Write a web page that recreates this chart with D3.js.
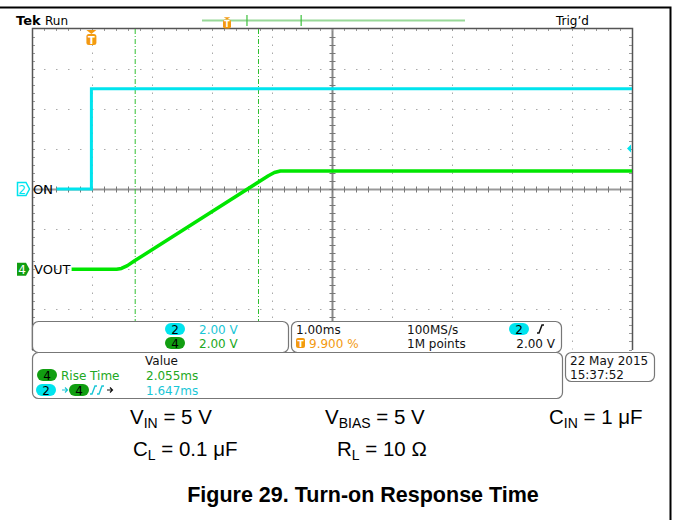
<!DOCTYPE html>
<html>
<head>
<meta charset="utf-8">
<script src="https://cdn.jsdelivr.net/npm/d3@7"></script>
<style>
	body { margin: 0; background: #fff; }
	svg { display: block; }
	text { font-family: "DejaVu Sans", sans-serif; }
	.cap { font-family: "Liberation Sans", Arial, sans-serif; }
</style>
</head>
<body>
<svg></svg>
<script>
// time in ms, volts
var ch2Time = [-0.58, 0, 0, 9.01];
var ch2Volt = [0, 0, 5.0, 5.0];
var ch4Time = [-0.33, 0.42, 0.5, 0.6, 0.72, 2.95, 3.05, 3.15, 9.01];
var ch4Volt = [0, 0, 0.04, 0.18, 0.42, 4.66, 4.82, 4.9, 4.9];
var cursorTimes = [0.73, 2.785];
var voltsPerDiv = 2;
var ch2OffsetDiv = 0;
var ch4OffsetDiv = -2;
var timeDomain = [-0.99, 9.01];   // 1.00 ms/div, trigger at 9.9 %
var divDomain = [-4, 4];

var chScaleRows = [['2', '2.00 V'], ['4', '2.00 V']];
var measureRows = [['Rise Time', '2.055ms'], ['', '1.647ms']];
var dateLines = ['22 May 2015', '15:37:52'];
var condRow1 = [['V', 'IN', ' = 5 V'], ['V', 'BIAS', ' = 5 V'], ['C', 'IN', ' = 1 μF']];
var condRow2 = [['C', 'L', ' = 0.1 μF'], ['R', 'L', ' = 10 Ω']];
var figTitle = 'Figure 29. Turn-on Response Time';

var chart = (function(window, d3) {

	var W = 674, H = 520;
	var CYAN = '#00e4ee', GREEN = '#00e600', PILLG = '#119e11', TXTG = '#22a822',
		TXTC = '#19c6d6', ORANGE = '#f39a10';

	var svg = d3.select('svg').attr('width', W).attr('height', H);

	var x = d3.scaleLinear().domain(timeDomain).range([32, 632]);
	var y = d3.scaleLinear().domain(divDomain).range([349.5, 28.5]);

	// outer frame
	svg.append('path').attr('d', 'M0,7.5H670.5V520').attr('fill', 'none')
		.attr('stroke', '#000').attr('stroke-width', 2);

	// graticule
	var grid = svg.append('g');
	var xt = d3.range(timeDomain[0], timeDomain[1] + 0.001, 1);
	var yt = d3.range(divDomain[0], divDomain[1] + 0.001, 1);

	grid.selectAll('line.v').data(xt.slice(1, -1)).enter().append('line')
		.attr('x1', function(d) { return Math.round(x(d)) + 0.5; })
		.attr('x2', function(d) { return Math.round(x(d)) + 0.5; })
		.attr('y1', y(4)).attr('y2', y(-4))
		.attr('stroke', '#aaa').attr('stroke-dasharray', '1.5,6.5');
	grid.selectAll('line.h').data(yt.slice(1, -1)).enter().append('line')
		.attr('y1', function(d) { return Math.round(y(d)) + 0.5; })
		.attr('y2', function(d) { return Math.round(y(d)) + 0.5; })
		.attr('x1', x.range()[0]).attr('x2', x.range()[1])
		.attr('stroke', '#aaa').attr('stroke-dasharray', '1.5,10.5');

	// center axes with minor ticks
	var cx = Math.round(x(4.01)) + 0.5, cy = Math.round(y(0)) + 0.5;
	grid.append('line').attr('x1', 32).attr('x2', 632).attr('y1', cy).attr('y2', cy)
		.attr('stroke', '#999').attr('stroke-width', 2);
	grid.append('line').attr('x1', cx).attr('x2', cx).attr('y1', 28).attr('y2', 350)
		.attr('stroke', '#888').attr('stroke-width', 2);
	var minorX = d3.range(timeDomain[0], timeDomain[1], 0.2);
	var minorY = d3.range(divDomain[0], divDomain[1], 0.2);
	grid.selectAll('line.mx').data(minorX).enter().append('line')
		.attr('x1', function(d) { return Math.round(x(d)) + 0.5; })
		.attr('x2', function(d) { return Math.round(x(d)) + 0.5; })
		.attr('y1', cy - 3).attr('y2', cy + 3).attr('stroke', '#777');
	grid.selectAll('line.my').data(minorY).enter().append('line')
		.attr('y1', function(d) { return Math.round(y(d)) + 0.5; })
		.attr('y2', function(d) { return Math.round(y(d)) + 0.5; })
		.attr('x1', cx - 3).attr('x2', cx + 3).attr('stroke', '#777');
	// border ticks
	grid.selectAll('line.tt').data(minorX).enter().append('line')
		.attr('x1', function(d) { return Math.round(x(d)) + 0.5; })
		.attr('x2', function(d) { return Math.round(x(d)) + 0.5; })
		.attr('y1', 28).attr('y2', 31).attr('stroke', '#999');
	grid.selectAll('line.lt').data(minorY).enter().append('line')
		.attr('y1', function(d) { return Math.round(y(d)) + 0.5; })
		.attr('y2', function(d) { return Math.round(y(d)) + 0.5; })
		.attr('x1', 32).attr('x2', 35).attr('stroke', '#999');
	grid.selectAll('line.rt').data(minorY).enter().append('line')
		.attr('y1', function(d) { return Math.round(y(d)) + 0.5; })
		.attr('y2', function(d) { return Math.round(y(d)) + 0.5; })
		.attr('x1', 629).attr('x2', 632).attr('stroke', '#999');
	grid.append('path').attr('d', 'M32.5,350V28.5H632.5V350').attr('fill', 'none')
		.attr('stroke', '#555').attr('stroke-width', 1.5);

	// cursors
	svg.selectAll('line.cur').data(cursorTimes).enter().append('line')
		.attr('x1', function(d) { return x(d); }).attr('x2', function(d) { return x(d); })
		.attr('y1', 29).attr('y2', 321)
		.attr('stroke', '#2fbf2f').attr('stroke-dasharray', '5,2,1,2');

	// traces
	var line = d3.line().x(function(d) { return x(d[0]); }).y(function(d) { return y(d[1]); });
	var ch2 = ch2Time.map(function(t, i) { return [t, ch2Volt[i] / voltsPerDiv + ch2OffsetDiv]; });
	var ch4 = ch4Time.map(function(t, i) { return [t, ch4Volt[i] / voltsPerDiv + ch4OffsetDiv]; });
	svg.append('path').attr('d', line(ch2)).attr('fill', 'none').attr('stroke', CYAN).attr('stroke-width', 3);
	svg.append('path').attr('d', line(ch4)).attr('fill', 'none').attr('stroke', GREEN)
		.attr('stroke-width', 3.5).attr('stroke-linejoin', 'round');

	// channel markers
	var m2 = svg.append('g').attr('transform', 'translate(17,' + y(ch2OffsetDiv) + ')');
	m2.append('path').attr('d', 'M0.5,-6.5H9L12.5,0L9,6.5H0.5Z').attr('fill', '#fff').attr('stroke', CYAN).attr('stroke-width', 1.5);
	m2.append('text').attr('x', 5).attr('y', 4.5).attr('text-anchor', 'middle').attr('font-size', 12).attr('fill', CYAN).text('2');
	svg.append('text').attr('x', 33).attr('y', y(ch2OffsetDiv) + 5).attr('font-size', 13).text('ON');
	var m4 = svg.append('g').attr('transform', 'translate(17,' + y(ch4OffsetDiv) + ')');
	m4.append('path').attr('d', 'M0,-6.5H9L12.5,0L9,6.5H0Z').attr('fill', PILLG);
	m4.append('text').attr('x', 5).attr('y', 4.5).attr('text-anchor', 'middle').attr('font-size', 12).attr('fill', '#fff').text('4');
	svg.append('text').attr('x', 34).attr('y', y(ch4OffsetDiv) + 5).attr('font-size', 13).text('VOUT');

	// trigger markers
	var trig = function(g, big) {
		g.append('path').attr('d', big ? 'M-5,-7H5L0,-3Z' : 'M-4,-6H4L0,-3Z').attr('fill', ORANGE);
		g.append('rect').attr('x', -5).attr('y', -3).attr('width', 10).attr('height', 11).attr('rx', 2.5).attr('fill', ORANGE);
		g.append('text').attr('x', 0).attr('y', 6.5).attr('text-anchor', 'middle').attr('font-size', 10)
			.attr('font-weight', 'bold').attr('fill', '#fff').text('T');
	};
	trig(svg.append('g').attr('transform', 'translate(' + x(0) + ',37)'), true);
	svg.append('path').attr('d', 'M627,148.5L631,144.5V152.5Z').attr('fill', CYAN);

	// top status line
	svg.append('text').attr('x', 16).attr('y', 25).attr('font-family', 'DejaVu Serif')
		.attr('font-weight', 'bold').attr('font-size', 13).text('Tek');
	svg.append('text').attr('x', 45).attr('y', 25).attr('font-size', 12).text('Run');
	svg.append('text').attr('x', 556).attr('y', 25).attr('font-size', 12).text('Trig\u2019d');
	var rec = d3.scaleLinear().domain([0, 1]).range([202, 465]);
	svg.append('line').attr('x1', rec(0)).attr('x2', rec(1)).attr('y1', 20.5).attr('y2', 20.5)
		.attr('stroke', '#98d898').attr('stroke-width', 2);
	svg.selectAll('line.rm').data([0.171, 0.377]).enter().append('line')
		.attr('x1', function(d) { return rec(d); }).attr('x2', function(d) { return rec(d); })
		.attr('y1', 15).attr('y2', 26).attr('stroke', '#3cc03c').attr('stroke-width', 1.2);
	trig(svg.append('g').attr('transform', 'translate(227,22) scale(0.8)'), false);

	// readout boxes
	var box = function(x0, y0, w, h) {
		svg.append('rect').attr('x', x0 + 0.5).attr('y', y0 + 0.5).attr('width', w).attr('height', h)
			.attr('rx', 6).attr('fill', '#fff').attr('stroke', '#777').attr('stroke-width', 1.2);
	};
	var pill = function(cx0, cy0, label, fill) {
		svg.append('rect').attr('x', cx0 - 10).attr('y', cy0 - 6).attr('width', 20).attr('height', 12)
			.attr('rx', 6).attr('fill', fill);
		svg.append('text').attr('x', cx0).attr('y', cy0 + 4.5).attr('text-anchor', 'middle')
			.attr('font-size', 12).text(label);
	};
	var txt = function(x0, y0, s, col, anchor) {
		return svg.append('text').attr('x', x0).attr('y', y0).attr('font-size', 12)
			.attr('fill', col || '#111').attr('text-anchor', anchor || 'start').text(s);
	};
	var edge = function(x0, y0) {
		svg.append('path').attr('d', 'M' + x0 + ',' + (y0 + 4) + 'h2l3,-8h2').attr('fill', 'none')
			.attr('stroke', '#111').attr('stroke-width', 1.5);
	};
	var arrow = function(x0, y0, col) {
		svg.append('path').attr('d', 'M' + x0 + ',' + y0 + 'h5m-2,-2.5l2.5,2.5l-2.5,2.5')
			.attr('fill', 'none').attr('stroke', col).attr('stroke-width', 1.2);
	};

	box(32, 321, 256, 31);
	chScaleRows.forEach(function(r, i) {
		pill(175, 329 + i * 14, r[0], i === 0 ? CYAN : PILLG);
		txt(199, 333.5 + i * 14, r[1], i === 0 ? TXTC : TXTG);
	});

	box(291, 321, 270, 31);
	txt(296, 333.5, '1.00ms');
	svg.append('rect').attr('x', 296).attr('y', 338).attr('width', 9).attr('height', 10).attr('rx', 2).attr('fill', ORANGE);
	svg.append('text').attr('x', 300.5).attr('y', 346.5).attr('text-anchor', 'middle').attr('font-size', 9)
		.attr('font-weight', 'bold').attr('fill', '#fff').text('T');
	txt(309, 347.5, '9.900 %', ORANGE);
	txt(407, 333.5, '100MS/s');
	txt(407, 347.5, '1M points');
	pill(519, 329, '2', CYAN);
	edge(537, 329);
	txt(555, 347.5, '2.00 V', null, 'end');

	box(32, 352, 530, 46);
	txt(145, 365, 'Value');
	pill(47, 375, '4', PILLG);
	txt(61, 379.5, measureRows[0][0], TXTG);
	txt(146, 379.5, measureRows[0][1], TXTG);
	pill(46, 390, '2', CYAN);
	arrow(62, 390, TXTC);
	pill(79, 390, '4', PILLG);
	svg.append('path').attr('d', 'M90,394h2l3,-8h2M97,394h2l3,-8h2').attr('fill', 'none').attr('stroke', TXTC).attr('stroke-width', 1.4);
	arrow(107, 390, '#111');
	txt(146, 394.5, measureRows[1][1], TXTC);

	box(565, 352, 89, 29);
	dateLines.forEach(function(s, i) { txt(570, 364.5 + i * 14, s); });

	// test conditions
	var cond = function(list, xs, yb) {
		list.forEach(function(c, i) {
			var t = svg.append('text').attr('class', 'cap').attr('x', xs[i]).attr('y', yb)
				.attr('font-size', 20.5).attr('fill', '#000');
			t.append('tspan').text(c[0]);
			t.append('tspan').attr('font-size', 14).attr('dy', 4).text(c[1]);
			t.append('tspan').attr('dy', -4).text(c[2]);
		});
	};
	cond(condRow1, [130, 325, 549], 424);
	cond(condRow2, [133, 337], 456);

	svg.append('text').attr('class', 'cap').attr('x', 363).attr('y', 502).attr('text-anchor', 'middle')
		.attr('font-size', 21.5).attr('font-weight', 'bold').text(figTitle);

})(window, d3);
</script>
</body>
</html>
